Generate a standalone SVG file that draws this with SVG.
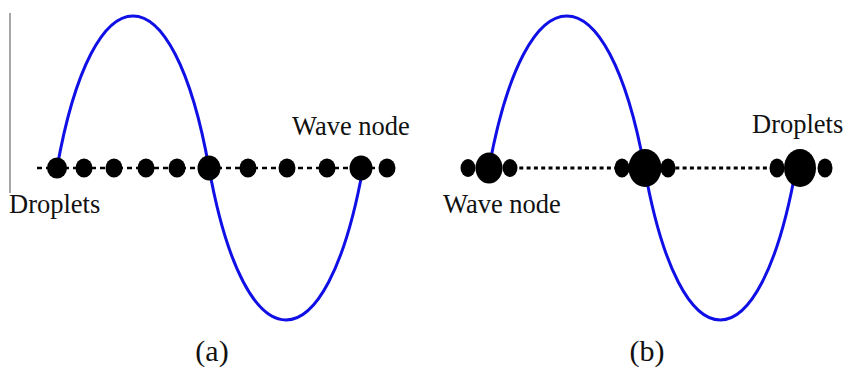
<svg xmlns="http://www.w3.org/2000/svg" width="845" height="374" viewBox="0 0 845 374">
  <style>
    .wave { fill: none; stroke: #1010e6; stroke-width: 3; }
    .dashA { stroke: #000; stroke-width: 2.6; stroke-dasharray: 5 4; }
    .dashB { stroke: #000; stroke-width: 2.8; stroke-dasharray: 4 3.3; }
    .drop { fill: #000; }
    .lbl { font-family: "Liberation Serif", "Times New Roman", serif; font-size: 26.5px; fill: #111; }
    .cap { font-family: "Liberation Serif", "Times New Roman", serif; font-size: 30px; fill: #111; text-anchor: middle; }
  </style>
  <rect width="845" height="374" fill="#fff"/>

  <g id="panel-a">
    <line x1="10" y1="13" x2="10" y2="193" stroke="#8a8a8a" stroke-width="1.5"/>
    <path class="wave" d="M57,168 C93,-34.7 173,-34.7 209,168 C245.5,370.7 326.5,370.7 363,168"/>
    <line class="dashA" x1="37" y1="168" x2="392" y2="168"/>
    <g id="droplets-a">
      <ellipse class="drop" cx="57" cy="168" rx="10" ry="10.5"/>
      <ellipse class="drop" cx="84" cy="168" rx="8.5" ry="9.5"/>
      <ellipse class="drop" cx="114" cy="168" rx="8.5" ry="9.5"/>
      <ellipse class="drop" cx="146" cy="168" rx="8.5" ry="9.5"/>
      <ellipse class="drop" cx="177" cy="168" rx="8.5" ry="9.5"/>
      <ellipse class="drop" cx="209" cy="168" rx="11.5" ry="12.5"/>
      <ellipse class="drop" cx="248" cy="168" rx="8.5" ry="9.5"/>
      <ellipse class="drop" cx="287" cy="168" rx="8.5" ry="9.5"/>
      <ellipse class="drop" cx="327" cy="168" rx="8.5" ry="9.5"/>
      <ellipse class="drop" cx="361" cy="168" rx="11.5" ry="12.5"/>
      <ellipse class="drop" cx="387" cy="168" rx="8.5" ry="9.5"/>
    </g>
    <text class="lbl" x="292" y="135">Wave node</text>
    <text class="lbl" x="9" y="213">Droplets</text>
    <text class="cap" x="212" y="361">(a)</text>
  </g>

  <g id="panel-b">
    <path class="wave" d="M489,168 C525.9,-34.7 607.6,-34.7 644.5,168 C680.4,370.7 760.1,370.7 796,168"/>
    <line class="dashB" x1="512" y1="168" x2="622" y2="168"/>
    <line class="dashB" x1="668" y1="168" x2="777" y2="168"/>
    <g id="cluster-left">
      <ellipse class="drop" cx="468" cy="168" rx="7.5" ry="9"/>
      <ellipse class="drop" cx="510" cy="168" rx="7.5" ry="9"/>
      <ellipse class="drop" cx="489" cy="168" rx="13.5" ry="15.5"/>
    </g>
    <g id="cluster-mid">
      <ellipse class="drop" cx="622" cy="168" rx="7.5" ry="9.5"/>
      <ellipse class="drop" cx="668" cy="168" rx="7.5" ry="9.5"/>
      <ellipse class="drop" cx="645" cy="168" rx="16.5" ry="19"/>
    </g>
    <g id="cluster-right">
      <ellipse class="drop" cx="777" cy="168" rx="7.5" ry="9.5"/>
      <ellipse class="drop" cx="825" cy="168" rx="7.5" ry="9.5"/>
      <ellipse class="drop" cx="800" cy="168" rx="16" ry="19"/>
    </g>
    <text class="lbl" x="443" y="213">Wave node</text>
    <text class="lbl" x="752" y="133">Droplets</text>
    <text class="cap" x="647" y="361">(b)</text>
  </g>
</svg>
